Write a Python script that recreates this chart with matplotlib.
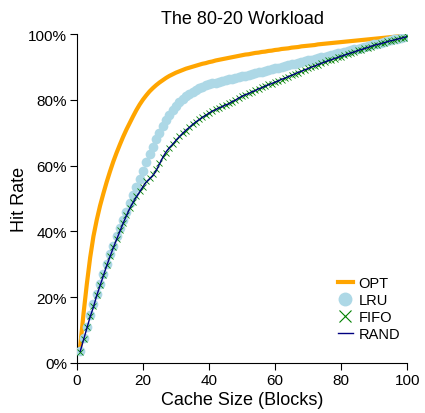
import matplotlib
matplotlib.use("Agg")
import matplotlib.pyplot as plt
from matplotlib.ticker import FuncFormatter

plt.rcParams.update({
    "font.family": ["Liberation Sans", "DejaVu Sans"],
    "figure.facecolor": "white",
    "axes.facecolor": "white",
})

cache_sizes = list(range(1, 101))

# hit rates (%), cache sizes 1..100
opt = [5.0, 15.0, 24.0, 32.0, 38.5, 43.5, 47.8, 51.5, 55.0, 58.2,
       61.2, 63.9, 66.4, 68.8, 71.0, 73.0, 75.0, 76.9, 78.6, 80.1,
       81.4, 82.6, 83.6, 84.5, 85.3, 86.0, 86.7, 87.3, 87.8, 88.3,
       88.7, 89.1, 89.5, 89.8, 90.1, 90.4, 90.7, 91.0, 91.2, 91.5,
       91.7, 92.0, 92.2, 92.4, 92.6, 92.8, 93.0, 93.2, 93.4, 93.6,
       93.8, 93.9, 94.1, 94.3, 94.4, 94.6, 94.7, 94.9, 95.0, 95.2,
       95.3, 95.5, 95.6, 95.7, 95.9, 96.0, 96.1, 96.3, 96.4, 96.5,
       96.6, 96.7, 96.9, 97.0, 97.1, 97.2, 97.3, 97.4, 97.5, 97.6,
       97.7, 97.8, 97.9, 98.0, 98.1, 98.2, 98.3, 98.4, 98.5, 98.6,
       98.7, 98.8, 98.9, 99.0, 99.1, 99.2, 99.3, 99.4, 99.5, 99.6]

lru = [3.5, 7.5, 11.0, 14.5, 18.0, 21.0, 24.0, 27.0, 30.0, 33.0,
       35.5, 38.5, 41.0, 43.5, 46.0, 48.5, 51.0, 53.5, 56.0, 58.5,
       61.0, 63.5, 65.8, 68.0, 70.0, 72.0, 73.8, 75.5, 77.0, 78.3,
       79.4, 80.3, 81.1, 81.8, 82.4, 83.0, 83.5, 84.0, 84.4, 84.8,
       85.1, 85.3, 85.6, 85.8, 86.0, 86.3, 86.5, 86.7, 87.0, 87.2,
       87.4, 87.7, 87.9, 88.2, 88.4, 88.6, 88.9, 89.1, 89.4, 89.6,
       89.8, 90.1, 90.3, 90.6, 90.8, 91.0, 91.3, 91.5, 91.8, 92.0,
       92.2, 92.5, 92.7, 93.0, 93.2, 93.4, 93.7, 93.9, 94.2, 94.4,
       94.6, 94.9, 95.1, 95.4, 95.6, 95.9, 96.1, 96.4, 96.6, 96.9,
       97.1, 97.4, 97.6, 97.9, 98.1, 98.4, 98.6, 98.9, 99.2, 99.5]

fifo = [3.3, 7.2, 10.8, 14.2, 17.3, 20.8, 23.8, 26.8, 29.7, 32.6,
        35.2, 37.8, 40.3, 42.7, 45.0, 47.2, 49.0, 50.8, 52.3, 53.6,
        55.2, 56.3, 57.4, 58.9, 60.8, 62.7, 64.0, 65.3, 66.7, 67.8,
        68.9, 69.9, 70.7, 71.7, 72.6, 73.2, 74.1, 74.8, 75.4, 76.1,
        76.5, 77.2, 77.5, 78.1, 78.4, 79.0, 79.4, 80.1, 80.5, 81.2,
        81.5, 82.1, 82.4, 82.9, 83.3, 83.8, 84.1, 84.7, 84.9, 85.5,
        85.8, 86.2, 86.7, 87.0, 87.6, 87.8, 88.3, 88.8, 89.1, 89.6,
        89.9, 90.4, 90.7, 91.2, 91.4, 92.0, 92.3, 92.5, 93.0, 93.2,
        93.7, 93.9, 94.4, 94.6, 95.1, 95.2, 95.7, 95.9, 96.2, 96.7,
        96.8, 97.2, 97.4, 97.8, 97.9, 98.3, 98.4, 98.8, 98.9, 99.3]

rand = [3.5, 7.0, 10.5, 14.0, 17.0, 20.5, 23.5, 26.5, 29.5, 32.3,
        35.0, 37.5, 40.0, 42.5, 44.8, 47.0, 48.8, 50.5, 52.0, 53.6,
        55.0, 56.0, 57.0, 58.5, 60.5, 62.5, 64.2, 65.5, 66.5, 67.7,
        68.8, 69.8, 70.8, 71.6, 72.5, 73.3, 74.0, 74.7, 75.3, 76.0,
        76.6, 77.0, 77.6, 77.9, 78.5, 78.8, 79.5, 79.9, 80.6, 81.1,
        81.6, 81.9, 82.5, 82.8, 83.4, 83.7, 84.2, 84.6, 85.0, 85.4,
        85.8, 86.3, 86.6, 87.1, 87.5, 87.9, 88.4, 88.7, 89.2, 89.5,
        90.0, 90.3, 90.8, 91.1, 91.5, 91.9, 92.2, 92.6, 92.9, 93.3,
        93.6, 94.0, 94.3, 94.6, 95.0, 95.3, 95.6, 95.9, 96.3, 96.6,
        96.9, 97.1, 97.4, 97.7, 98.0, 98.2, 98.5, 98.7, 99.0, 99.3]

fig = plt.figure(figsize=(4.25, 4.14), dpi=100)
ax = fig.add_axes([0.181, 0.121, 0.777, 0.794])

ax.plot(cache_sizes, opt, color="orange", linewidth=3, label="OPT", zorder=2)
ax.plot(cache_sizes, lru, linestyle="none", marker="o", markersize=7,
        color="lightblue", markeredgewidth=0, label="LRU", zorder=3)
ax.plot(cache_sizes, fifo, linestyle="none", marker="x", markersize=4,
        color="green", markeredgewidth=0.6, label="FIFO", zorder=4)
ax.plot(cache_sizes, rand, color="navy", linewidth=1, label="RAND", zorder=5)

ax.set_xlim(0, 100)
ax.set_ylim(0, 100)
ax.set_xticks([0, 20, 40, 60, 80, 100])
ax.set_yticks([0, 20, 40, 60, 80, 100])
ax.yaxis.set_major_formatter(FuncFormatter(lambda v, _: f"{v:.0f}%"))
for s in ("top", "right"):
    ax.spines[s].set_visible(False)
ax.tick_params(direction="out", length=5, pad=2, labelsize=11, color="black")
ax.set_xlabel("Cache Size (Blocks)", fontsize=13, labelpad=3)
ax.set_ylabel("Hit Rate", fontsize=13, labelpad=0)
ax.set_title("The 80-20 Workload", fontsize=13, pad=8)

leg = ax.legend(loc="lower right", bbox_to_anchor=(1.01, 0.035), frameon=False,
                fontsize=10.5, handlelength=1.0, handletextpad=0.4,
                labelspacing=0.2, borderpad=0.2)
hs = leg.legend_handles
hs[1].set_markersize(10)
hs[2].set_markersize(9)
hs[2].set_markeredgewidth(0.8)

fig.savefig("out.png", dpi=100, facecolor="white")
